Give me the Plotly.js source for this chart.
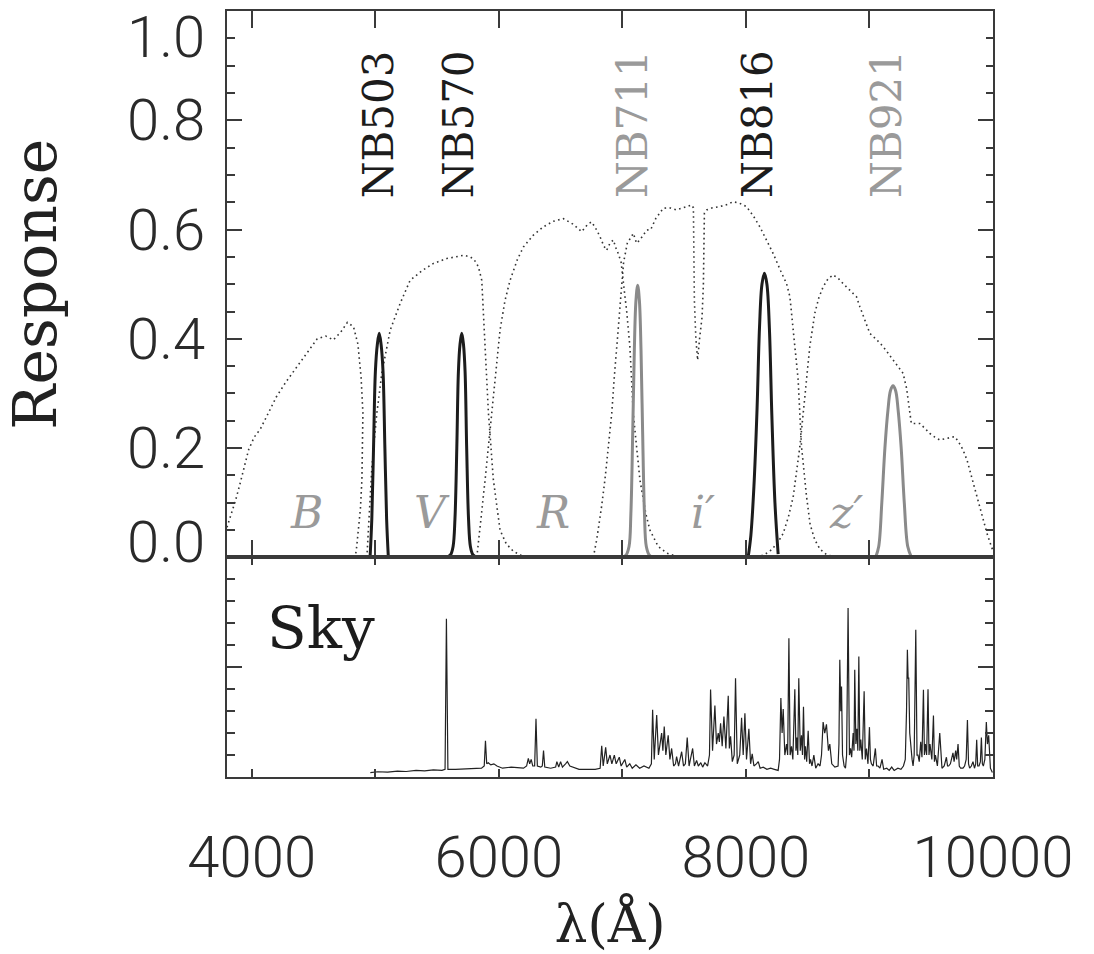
<!DOCTYPE html>
<html>
<head>
<meta charset="utf-8">
<script src="https://cdn.plot.ly/plotly-3.0.1.min.js"></script>
<style>html,body{margin:0;padding:0;background:#fff;}#chart{width:1094px;height:954px;}</style>
</head>
<body>
<div id="chart"></div>
<script>
// ---------- broadband filter curves (dotted) ----------
const bandB_wl = [3800,3830,3870,3900,3940,3975,4020,4070,4130,4200,4280,4370,4450,4530,4600,4660,4720,4774,4824,4860,4885,4900,4898,4892,4880,4865,4850,4838];
const bandB_r  = [0.055,0.075,0.105,0.13,0.165,0.197,0.22,0.235,0.262,0.294,0.322,0.349,0.375,0.40,0.405,0.398,0.412,0.43,0.422,0.39,0.33,0.264,0.2,0.142,0.09,0.05,0.02,0.0];

const bandV_wl = [4932,4950,4973,5013,5053,5121,5202,5282,5380,5471,5579,5650,5714,5768,5800,5835,5862,5889,5916,5956,6010,6060,6118,6180,6226];
const bandV_r  = [0.0,0.07,0.166,0.264,0.337,0.416,0.465,0.507,0.525,0.538,0.547,0.55,0.553,0.55,0.545,0.532,0.507,0.386,0.264,0.142,0.05,0.025,0.011,0.004,0.0];

const bandR_wl = [5822,5835,5860,5889,5929,5970,6010,6050,6091,6150,6199,6280,6361,6440,6522,6600,6671,6720,6752,6790,6819,6850,6873,6900,6927,6950,6967,6990,7008,7035,7061,7088,7142,7190,7223,7290,7358,7440,7520];
const bandR_r  = [0.0,0.032,0.08,0.142,0.233,0.325,0.416,0.47,0.507,0.545,0.568,0.59,0.605,0.615,0.62,0.61,0.596,0.61,0.614,0.6,0.587,0.57,0.562,0.575,0.581,0.565,0.556,0.54,0.507,0.45,0.386,0.264,0.142,0.08,0.05,0.02,0.008,0.002,0.0];

const bandI_wl = [6765,6792,6830,6859,6890,6914,6935,6954,6981,7010,7040,7089,7115,7142,7170,7197,7230,7270,7331,7380,7439,7500,7561,7575,7580,7583,7595,7609,7625,7645,7656,7660,7664,7682,7730,7790,7850,7897,7950,8005,8060,8113,8170,8221,8280,8329,8356,8396,8423,8450,8491,8520,8558,8600,8653,8720,8787];
const bandI_r  = [0.0,0.032,0.09,0.142,0.21,0.264,0.33,0.386,0.47,0.54,0.575,0.593,0.575,0.581,0.59,0.599,0.6,0.62,0.639,0.64,0.636,0.64,0.645,0.64,0.56,0.47,0.40,0.361,0.40,0.44,0.5,0.58,0.63,0.636,0.64,0.642,0.646,0.651,0.648,0.642,0.625,0.605,0.58,0.556,0.525,0.501,0.477,0.386,0.325,0.203,0.111,0.06,0.032,0.015,0.005,0.001,0.0];

const bandZ_wl = [8086,8150,8208,8260,8302,8345,8383,8410,8437,8477,8517,8558,8590,8625,8665,8706,8750,8787,8814,8860,8895,8922,8960,9003,9060,9110,9150,9191,9230,9272,9300,9312,9325,9339,9370,9407,9450,9488,9530,9569,9630,9690,9720,9757,9790,9811,9840,9865,9890,9919,9950,9987,10000];
const bandZ_r  = [0.0,0.005,0.014,0.028,0.044,0.075,0.111,0.155,0.203,0.294,0.386,0.447,0.475,0.495,0.51,0.517,0.51,0.501,0.495,0.485,0.477,0.459,0.435,0.41,0.398,0.386,0.374,0.361,0.35,0.337,0.31,0.288,0.265,0.245,0.245,0.245,0.236,0.227,0.22,0.215,0.218,0.221,0.212,0.197,0.178,0.16,0.14,0.117,0.093,0.069,0.045,0.02,0.012];

// ---------- narrowband filter curves (solid) ----------
const nb503_wl = [4958,4972,4986,5001,5017,5032,5047,5063,5078,5092,5106];
const nb503_r  = [0.0,0.07,0.2,0.34,0.39,0.41,0.39,0.34,0.2,0.07,0.0];

const nb570_wl = [5580,5610,5630,5645,5660,5673,5686,5700,5714,5727,5740,5755,5770,5790,5820];
const nb570_r  = [0.0,0.005,0.02,0.07,0.2,0.34,0.39,0.41,0.39,0.34,0.2,0.07,0.02,0.005,0.0];

const nb711_wl = [6999,7029,7054,7069,7084,7097,7110,7124,7138,7151,7164,7179,7194,7219,7249];
const nb711_r  = [0.0,0.004,0.02,0.08,0.23,0.38,0.47,0.498,0.47,0.38,0.23,0.08,0.02,0.004,0.0];

const nb816_wl = [8018,8040,8065,8090,8110,8130,8150,8170,8190,8210,8235,8261];
const nb816_r  = [0.0,0.04,0.13,0.27,0.42,0.50,0.52,0.50,0.42,0.26,0.1,0.006];

const nb921_wl = [9050,9075,9100,9125,9150,9170,9191,9212,9232,9257,9282,9310,9340];
const nb921_r  = [0.0,0.02,0.1,0.2,0.27,0.305,0.314,0.305,0.27,0.2,0.1,0.02,0.0];

// ---------- sky spectrum ----------
const sky_wl = [4960,5020,5100,5180,5250,5330,5400,5470,5540,5565,5576,5588,5650,5750,5860,5882,5892,5902,5915,5935,5960,5985,6030,6100,6200,6225,6239,6250,6262,6275,6290,6301,6312,6340,6352,6362,6372,6420,6460,6470,6485,6500,6515,6540,6555,6575,6600,6650,6700,6780,6820,6833,6845,6865,6878,6900,6915,6935,6950,6975,6990,7020,7035,7060,7080,7110,7140,7175,7215,7235,7245,7258,7278,7292,7305,7318,7328,7339,7352,7371,7385,7399,7415,7430,7439,7455,7480,7495,7510,7525,7540,7569,7583,7601,7615,7635,7650,7668,7690,7705,7714,7730,7749,7762,7776,7785,7795,7808,7822,7838,7857,7866,7876,7890,7905,7916,7930,7950,7965,7978,7992,8005,8024,8038,8051,8065,8085,8100,8115,8140,8170,8200,8230,8261,8272,8283,8293,8302,8315,8329,8338,8348,8358,8369,8380,8396,8405,8412,8420,8428,8440,8450,8458,8466,8475,8482,8492,8504,8515,8523,8535,8550,8565,8584,8600,8612,8625,8638,8652,8668,8679,8695,8720,8746,8753,8760,8768,8774,8782,8795,8806,8815,8827,8838,8847,8856,8868,8875,8881,8890,8898,8906,8914,8922,8930,8942,8957,8966,8976,8988,9000,9008,9016,9030,9048,9058,9070,9085,9102,9115,9140,9160,9180,9200,9230,9255,9275,9290,9300,9307,9313,9318,9326,9334,9345,9353,9362,9375,9385,9393,9403,9415,9425,9437,9445,9453,9463,9474,9482,9490,9505,9518,9526,9534,9550,9569,9580,9587,9605,9623,9632,9641,9655,9676,9685,9698,9706,9717,9727,9738,9757,9770,9783,9793,9802,9811,9825,9838,9850,9860,9868,9876,9887,9898,9906,9914,9922,9934,9946,9955,9965,9972,9979,9995];
const sky_val = [0.02,0.024,0.022,0.027,0.025,0.03,0.028,0.032,0.03,0.035,0.72,0.035,0.035,0.038,0.04,0.05,0.165,0.06,0.065,0.055,0.06,0.05,0.04,0.045,0.04,0.05,0.085,0.06,0.08,0.05,0.05,0.265,0.05,0.045,0.05,0.12,0.045,0.04,0.045,0.07,0.045,0.07,0.045,0.06,0.07,0.05,0.045,0.035,0.035,0.035,0.04,0.142,0.05,0.135,0.06,0.1,0.06,0.1,0.06,0.09,0.05,0.08,0.045,0.06,0.04,0.055,0.04,0.05,0.04,0.06,0.306,0.08,0.282,0.1,0.15,0.2,0.12,0.23,0.1,0.19,0.08,0.13,0.05,0.06,0.093,0.05,0.115,0.05,0.06,0.18,0.05,0.13,0.05,0.075,0.05,0.065,0.045,0.065,0.05,0.1,0.398,0.12,0.325,0.15,0.2,0.16,0.245,0.14,0.275,0.13,0.37,0.13,0.185,0.07,0.1,0.45,0.06,0.1,0.27,0.1,0.29,0.08,0.22,0.06,0.105,0.05,0.06,0.07,0.04,0.045,0.035,0.04,0.035,0.03,0.08,0.36,0.2,0.31,0.1,0.15,0.1,0.632,0.1,0.14,0.08,0.4,0.12,0.18,0.1,0.45,0.12,0.19,0.1,0.32,0.08,0.14,0.07,0.21,0.06,0.08,0.05,0.1,0.04,0.06,0.05,0.1,0.25,0.2,0.24,0.12,0.15,0.06,0.045,0.05,0.15,0.534,0.3,0.412,0.1,0.05,0.04,0.1,0.769,0.1,0.13,0.09,0.2,0.12,0.488,0.15,0.22,0.12,0.549,0.12,0.17,0.08,0.39,0.08,0.13,0.06,0.227,0.08,0.06,0.05,0.13,0.05,0.05,0.04,0.08,0.035,0.04,0.03,0.045,0.03,0.04,0.035,0.05,0.08,0.3,0.579,0.45,0.45,0.2,0.13,0.08,0.05,0.1,0.67,0.1,0.1,0.07,0.16,0.09,0.397,0.1,0.15,0.1,0.4,0.1,0.15,0.08,0.28,0.07,0.1,0.05,0.2,0.06,0.04,0.05,0.09,0.05,0.05,0.06,0.11,0.07,0.12,0.08,0.15,0.05,0.04,0.04,0.05,0.08,0.26,0.06,0.04,0.05,0.07,0.04,0.06,0.17,0.05,0.05,0.07,0.18,0.06,0.05,0.08,0.25,0.15,0.19,0.08,0.04,0.02];

// ---------- labels ----------
const nbNames   = ['NB503','NB570','NB711','NB816','NB921'];
const nbLabelWl = [5024,5671,7078,8089,9133];
const nbGray    = [false,false,true,false,true];
const bandNames = ['B','V','R','i\u2032','z\u2032'];
const bandLabelWl = [4447,5460,6440,7652,8808];
const xTickVals = [4000,5000,6000,7000,8000,9000,10000];
const xTickText = ['4000','','6000','','8000','','10000'];
const yTickVals = [0,0.2,0.4,0.6,0.8,1.0];
const yTickText = ['0.0','0.2','0.4','0.6','0.8','1.0'];

const BLACK = '#1c1c1c', GRAY = '#8a8a8a', LABELGRAY = '#9a9a9a', AXIS = '#3a3a3a';
const dotted = {color: '#333', width: 1.6, dash: '1.6px,3.4px'};
const tickFont = {family: 'Roboto, DejaVu Sans', size: 58, color: '#2a2a2a', weight: 300};

const traces = [];
[[bandB_wl,bandB_r,'B'],[bandV_wl,bandV_r,'V'],[bandR_wl,bandR_r,'R'],[bandI_wl,bandI_r,"i'"],[bandZ_wl,bandZ_r,"z'"]].forEach(([x,y,n]) => {
  traces.push({x, y, name: n, type: 'scatter', mode: 'lines', line: dotted, xaxis: 'x', yaxis: 'y', hoverinfo: 'skip'});
});
const nbData = [[nb503_wl,nb503_r],[nb570_wl,nb570_r],[nb711_wl,nb711_r],[nb816_wl,nb816_r],[nb921_wl,nb921_r]];
nbData.forEach(([x,y],i) => {
  traces.push({x, y, name: nbNames[i], type: 'scatter', mode: 'lines',
    line: {color: nbGray[i] ? GRAY : BLACK, width: 3, shape: 'spline', smoothing: 1},
    xaxis: 'x', yaxis: 'y', hoverinfo: 'skip'});
});
traces.push({x: sky_wl, y: sky_val, name: 'Sky', type: 'scatter', mode: 'lines',
  line: {color: '#222', width: 1.2}, xaxis: 'x2', yaxis: 'y2', hoverinfo: 'skip'});

const annotations = [];
// y tick labels (end labels are pulled inside the frame, as in the original)
yTickText.forEach((t,i) => {
  const last = yTickVals.length - 1;
  annotations.push({text: t, x: 0, y: yTickVals[i], xref: 'paper', yref: 'y',
    xanchor: 'right', yanchor: 'middle', xshift: -20, yshift: i === 0 ? 15 : (i === last ? -26 : 0),
    showarrow: false, font: tickFont});
});
nbNames.forEach((t,i) => annotations.push({
  text: t, x: nbLabelWl[i], y: 0.654, xref: 'x', yref: 'y', textangle: -90,
  xanchor: 'center', yanchor: 'bottom', showarrow: false,
  font: {family: 'DejaVu Serif', size: 42, color: nbGray[i] ? LABELGRAY : BLACK}
}));
bandNames.forEach((t,i) => annotations.push({
  text: t, x: bandLabelWl[i], y: 0.082, xref: 'x', yref: 'y',
  xanchor: 'center', yanchor: 'middle', showarrow: false,
  font: {family: 'DejaVu Serif', size: 44, style: 'italic', color: LABELGRAY}
}));
annotations.push({text: 'Sky', x: 4110, y: 0.68, xref: 'x2', yref: 'y2', xanchor: 'left', yanchor: 'middle',
  showarrow: false, font: {family: 'DejaVu Serif', size: 58, color: BLACK}});

const split = 0.2867;
const common = {showgrid: false, zeroline: false, showline: true, linecolor: AXIS, linewidth: 2, mirror: 'ticks', ticks: 'inside', tickcolor: AXIS, tickwidth: 2};

const layout = {
  width: 1094, height: 954,
  margin: {l: 227, r: 101, t: 11, b: 177},
  paper_bgcolor: '#fff', plot_bgcolor: '#fff',
  showlegend: false,
  xaxis: Object.assign({}, common, {range: [3800, 10000], anchor: 'y', tickvals: xTickVals, ticklen: 17, showticklabels: false}),
  yaxis: Object.assign({}, common, {domain: [split, 1], range: [0, 1], anchor: 'x', tickvals: yTickVals, ticklen: 15, showticklabels: false,
    minor: {dtick: 0.05, ticklen: 7.5, ticks: 'inside', tickcolor: AXIS, tickwidth: 2, showgrid: false},
    title: {text: 'Response', font: {family: 'DejaVu Serif', size: 60, color: '#222'}, standoff: 150}}),
  xaxis2: Object.assign({}, common, {range: [3800, 10000], anchor: 'y2', tickvals: xTickVals, ticktext: xTickText, ticklen: 8,
    tickfont: tickFont, ticklabelstandoff: 28,
    title: {text: '\u03bb(\u00c5)', font: {family: 'DejaVu Serif', size: 52, color: '#222'}, standoff: 28}}),
  yaxis2: Object.assign({}, common, {domain: [0, split], range: [0, 1], anchor: 'x2', tickvals: [0, 0.5, 1], ticklen: 15, showticklabels: false,
    minor: {dtick: 0.1, ticklen: 8, ticks: 'inside', tickcolor: AXIS, tickwidth: 2, showgrid: false}}),
  annotations
};

Plotly.newPlot('chart', traces, layout, {staticPlot: true, displayModeBar: false});
</script>
</body>
</html>
